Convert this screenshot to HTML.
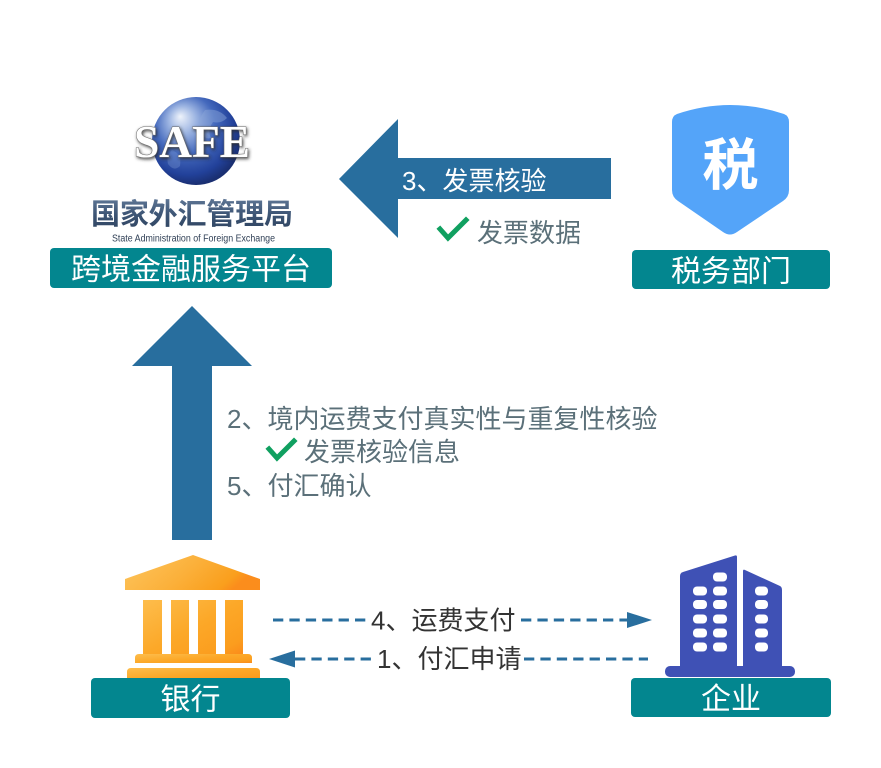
<!DOCTYPE html>
<html>
<head>
<meta charset="utf-8">
<style>
  html,body{margin:0;padding:0;background:#ffffff;}
  svg{display:block;}
  text{font-family:"Liberation Sans","Noto Sans CJK SC",sans-serif;}
</style>
</head>
<body>
<svg width="881" height="768" viewBox="0 0 881 768" xmlns="http://www.w3.org/2000/svg">
  <defs>
    <radialGradient id="globe" cx="0.42" cy="0.38" r="0.62" fx="0.32" fy="0.22">
      <stop offset="0" stop-color="#eef3fb"/>
      <stop offset="0.25" stop-color="#9db5e2"/>
      <stop offset="0.55" stop-color="#4469bd"/>
      <stop offset="0.85" stop-color="#22419a"/>
      <stop offset="1" stop-color="#1a2f72"/>
    </radialGradient>
    <linearGradient id="cnText" x1="0" y1="0" x2="0" y2="1">
      <stop offset="0" stop-color="#5f7796"/>
      <stop offset="0.5" stop-color="#3d5575"/>
      <stop offset="1" stop-color="#2e435f"/>
    </linearGradient>
    <linearGradient id="bankRoof" x1="0" y1="0" x2="1" y2="0.3">
      <stop offset="0" stop-color="#fdc65f"/>
      <stop offset="0.55" stop-color="#fbb03a"/>
      <stop offset="0.9" stop-color="#fa9f1d"/>
      <stop offset="1" stop-color="#fb8d1c"/>
    </linearGradient>
    <linearGradient id="bankBody" x1="0" y1="0" x2="1" y2="1">
      <stop offset="0" stop-color="#fdbd4c"/>
      <stop offset="0.5" stop-color="#fca828"/>
      <stop offset="0.85" stop-color="#fb9d1e"/>
      <stop offset="1" stop-color="#fb8a1a"/>
    </linearGradient>
    <filter id="sh" x="-10%" y="-20%" width="120%" height="140%">
      <feGaussianBlur in="SourceAlpha" stdDeviation="1.6"/>
      <feOffset dx="1" dy="1.5" result="b"/>
      <feFlood flood-color="#2a2a2a" flood-opacity="0.85"/>
      <feComposite in2="b" operator="in"/>
      <feMerge><feMergeNode/><feMergeNode in="SourceGraphic"/></feMerge>
    </filter>
  </defs>

  <!-- ============ SAFE logo ============ -->
  <circle cx="196" cy="141" r="44" fill="url(#globe)"/>
  <!-- faint continents -->
  <path d="M205 110 q14 -2 22 8 q-6 6 -14 4 q-6 8 -2 16 q-8 2 -10 -8 q-6 -6 4 -20z" fill="#8ea9da" opacity="0.45"/>
  <path d="M172 150 q10 4 8 16 q-6 6 -12 -2 q-2 -8 4 -14z" fill="#7e9bd3" opacity="0.35"/>
  <text x="192" y="157" text-anchor="middle" font-family="Liberation Serif, serif" font-weight="bold" font-size="46" fill="#ffffff" stroke="#6a6a6a" stroke-width="1" paint-order="stroke" textLength="116" lengthAdjust="spacingAndGlyphs" filter="url(#sh)" style="font-family:'Liberation Serif',serif">SAFE</text>

  <text x="91" y="224" font-size="29" font-weight="bold" fill="url(#cnText)" textLength="202" lengthAdjust="spacing">国家外汇管理局</text>
  <text x="112" y="241.5" font-size="10" fill="#2f3f55" textLength="163" lengthAdjust="spacingAndGlyphs">State Administration of Foreign Exchange</text>

  <!-- 跨境金融服务平台 box -->
  <rect x="50" y="248" width="282" height="40" rx="4" fill="#03868f"/>
  <text x="191" y="279.5" text-anchor="middle" font-size="30" fill="#ffffff">跨境金融服务平台</text>

  <!-- ============ Tax shield ============ -->
  <path d="M677 114 Q730 96 784 114 Q789 116 789 122 L789 190 Q789 197 783 201 L737 232 Q730 237 723 232 L678 201 Q672 197 672 190 L672 122 Q672 116 677 114 Z" fill="#54a4f9"/>
  <text x="730.5" y="185" text-anchor="middle" font-size="56" font-weight="bold" fill="#ffffff">税</text>

  <rect x="632" y="250" width="198" height="39" rx="4" fill="#03868f"/>
  <text x="731" y="281.5" text-anchor="middle" font-size="30" fill="#ffffff">税务部门</text>

  <!-- ============ Left arrow (3) ============ -->
  <polygon points="339,179 398,119 398,158 611,158 611,199 398,199 398,238" fill="#286e9e"/>
  <text x="402" y="190" font-size="26" fill="#ffffff">3、发票核验</text>

  <polyline points="440,229 448,238 466,220" fill="none" stroke="#10a060" stroke-width="5" stroke-linecap="square"/>
  <text x="477" y="242" font-size="26" fill="#5b7079">发票数据</text>

  <!-- ============ Up arrow ============ -->
  <polygon points="192,306 252,366 212,366 212,540 172,540 172,366 132,366" fill="#286e9e"/>

  <text x="227" y="428" font-size="26" fill="#5b7079">2、境内运费支付真实性与重复性核验</text>
  <polyline points="269,449 277,458 294,441" fill="none" stroke="#10a060" stroke-width="5" stroke-linecap="square"/>
  <text x="304" y="461" font-size="26" fill="#5b7079">发票核验信息</text>
  <text x="227" y="495" font-size="26" fill="#5b7079">5、付汇确认</text>

  <!-- ============ Bank ============ -->
  <polygon points="193,555 125,579 125,590 260,590 260,579" fill="url(#bankRoof)"/>
  <rect x="143" y="600" width="100" height="55" fill="url(#bankBody)"/>
  <rect x="162" y="600" width="9" height="54" fill="#ffffff"/>
  <rect x="189" y="600" width="9" height="54" fill="#ffffff"/>
  <rect x="216" y="600" width="9" height="54" fill="#ffffff"/>
  <path d="M135 663 L135 658 Q135 654 139 654 L248 654 Q252 654 252 658 L252 663 Z" fill="url(#bankBody)"/>
  <path d="M127 680 L127 672 Q127 668 131 668 L256 668 Q260 668 260 672 L260 680 Z" fill="url(#bankBody)"/>

  <rect x="91" y="678" width="199" height="40" rx="4" fill="#03868f"/>
  <text x="190.5" y="709.5" text-anchor="middle" font-size="30" fill="#ffffff">银行</text>

  <!-- ============ Enterprise building ============ -->
  <path d="M680 576 Q680 573 683 572 L735 555.5 Q737 555 737 557 L737 670 L680 670 Z" fill="#3f51b5"/>
  <path d="M743 571 Q743 569 745 570 L780 586 Q782 587 782 590 L782 670 L743 670 Z" fill="#3f51b5"/>
  <rect x="665" y="666" width="130" height="11" rx="5" fill="#3f51b5"/>
  <g fill="#ffffff">
    <rect x="713" y="572.5" width="14" height="9" rx="4"/>
    <rect x="693" y="586.5" width="14" height="9" rx="4"/>
    <rect x="713" y="586.5" width="14" height="9" rx="4"/>
    <rect x="755" y="586.5" width="13" height="9" rx="4"/>
    <rect x="693" y="600" width="14" height="9" rx="4"/>
    <rect x="713" y="600" width="14" height="9" rx="4"/>
    <rect x="755" y="600" width="13" height="9" rx="4"/>
    <rect x="693" y="614.5" width="14" height="9" rx="4"/>
    <rect x="713" y="614.5" width="14" height="9" rx="4"/>
    <rect x="755" y="614.5" width="13" height="9" rx="4"/>
    <rect x="693" y="628.5" width="14" height="9" rx="4"/>
    <rect x="713" y="628.5" width="14" height="9" rx="4"/>
    <rect x="755" y="628.5" width="13" height="9" rx="4"/>
    <rect x="693" y="642.5" width="14" height="9" rx="4"/>
    <rect x="713" y="642.5" width="14" height="9" rx="4"/>
    <rect x="755" y="642.5" width="13" height="9" rx="4"/>
  </g>

  <rect x="631" y="678" width="200" height="39" rx="4" fill="#03868f"/>
  <text x="731" y="709" text-anchor="middle" font-size="30" fill="#ffffff">企业</text>

  <!-- ============ Dashed connectors ============ -->
  <g stroke="#286e9e" stroke-width="3" fill="none" stroke-dasharray="10.3 6.1">
    <line x1="273" y1="620" x2="370" y2="620"/>
    <line x1="521" y1="620" x2="627" y2="620"/>
    <line x1="295" y1="659" x2="376" y2="659"/>
    <line x1="524" y1="659" x2="648" y2="659"/>
  </g>
  <polygon points="627,612 652,620 627,628" fill="#286e9e"/>
  <polygon points="295,650.5 269,659 295,667.5" fill="#286e9e"/>

  <text x="371" y="629.5" font-size="26" fill="#333333">4、运费支付</text>
  <text x="377" y="668" font-size="26" fill="#333333">1、付汇申请</text>
</svg>
</body>
</html>
